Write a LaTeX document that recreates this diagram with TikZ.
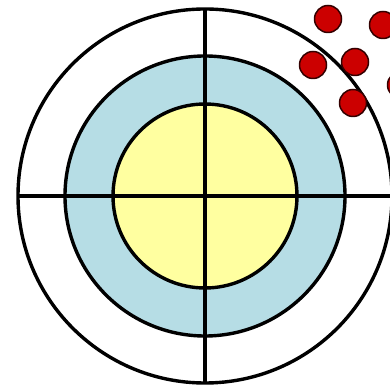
\documentclass[tikz,border=0pt]{standalone}
\definecolor{ringblue}{RGB}{182,221,229}
\definecolor{coreyellow}{RGB}{255,255,160}
\definecolor{dotred}{RGB}{204,0,0}
\tikzset{
  ringline/.style={line width=3.4pt, draw=black},
  shot/.style={line width=1.5pt, draw=black!80!red, fill=dotred}
}
\begin{document}
\begin{tikzpicture}[x=1pt,y=1pt]
\useasboundingbox (0,0) rectangle (390,390);
\clip (0,0) rectangle (390,390);
\fill[white] (0,0) rectangle (390,390);
\coordinate (c) at (205,194);
\draw[ringline, fill=white] (c) circle [radius=187];
\draw[ringline, fill=ringblue] (c) circle [radius=140];
\draw[ringline, fill=coreyellow] (c) circle [radius=92];
\coordinate (top) at (205,381);
\coordinate (bot) at (205,7);
\coordinate (lft) at (18,194);
\coordinate (rgt) at (392,194);
\draw[ringline] (top) -- (bot);
\draw[ringline] (lft) -- (rgt);
\draw[shot] (328,371) circle [radius=13.5];
\draw[shot] (383,365) circle [radius=13.5];
\draw[shot] (313,325) circle [radius=13.5];
\draw[shot] (355,328) circle [radius=13.5];
\draw[shot] (353,287) circle [radius=13.5];
\draw[shot] (401,305) circle [radius=13.5];
\end{tikzpicture}
\end{document}
